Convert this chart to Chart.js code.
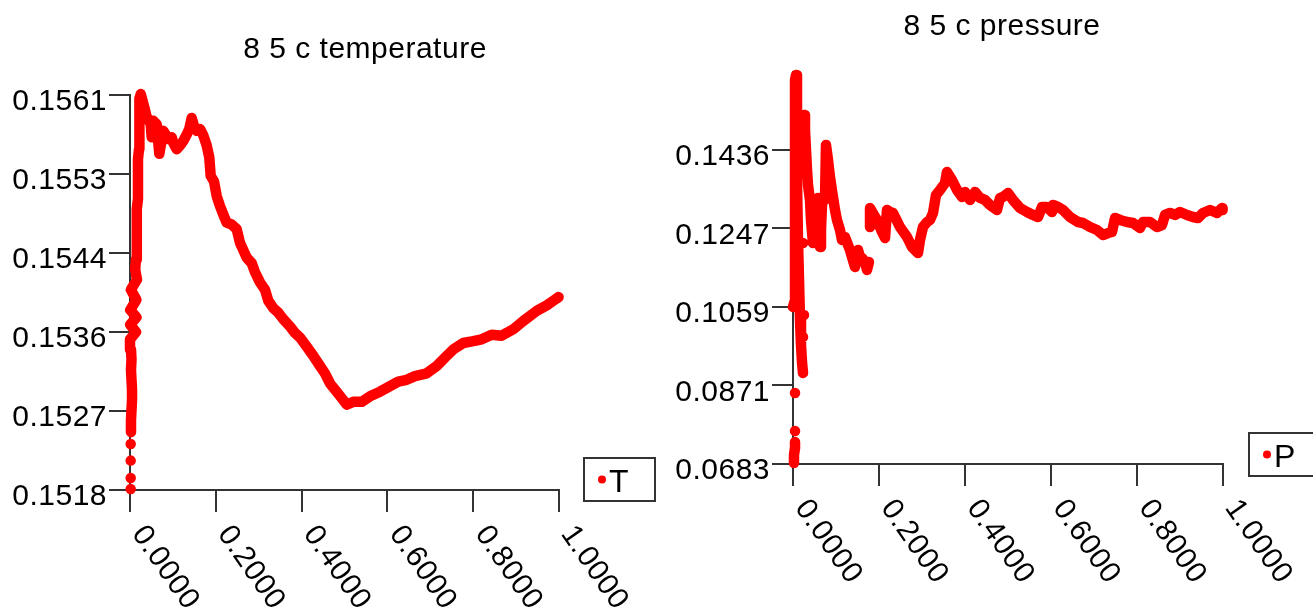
<!DOCTYPE html>
<html>
<head>
<meta charset="utf-8">
<script src="https://cdn.jsdelivr.net/npm/chart.js@4/dist/chart.umd.min.js"></script>
<style>
  body { margin: 0; background: #fff; }
  #tempChart { position: absolute; left: 0; top: 0; }
  #presChart { position: absolute; left: 656px; top: 0; }
</style>
</head>
<body>
<canvas id="tempChart" width="656" height="609"></canvas>
<canvas id="presChart" width="657" height="609"></canvas>
<script>
/* Data */
let xTicks = [0, 0.2, 0.4, 0.6, 0.8, 1.0];

let tempTicks = [0.1518, 0.1527, 0.1536, 0.1544, 0.1553, 0.1561];
let presTicks = [0.0683, 0.0871, 0.1059, 0.1247, 0.1436];

let tempX = [
  0.0016, 0.0016, 0.0016, 0.0016, 0.0016, 0.0016, 0.0016, 0.0016,
  0.0023, 0.0023, 0.0035, 0.0047, 0.0047, 0.0035, 0.0023, 0.0035, 0.0023,
  0.0000, 0.0140, 0.0005, 0.0150, 0.0005, 0.0150, 0.0020, 0.0163, 0.0120,
  0.0140, 0.0140, 0.0163, 0.0163, 0.0163, 0.0163, 0.0186, 0.0186, 0.0186,
  0.0186, 0.0186, 0.0210, 0.0210, 0.0210, 0.0210, 0.0233, 0.0233, 0.0250,
  0.0326, 0.0389, 0.0427, 0.0483, 0.0506, 0.0543, 0.0622, 0.0683, 0.0776,
  0.0832, 0.0893, 0.0972, 0.1009, 0.1089, 0.1166, 0.1242, 0.1322, 0.1382,
  0.1438, 0.1492, 0.1555, 0.1632, 0.1709, 0.1788, 0.1848, 0.1881, 0.1958,
  0.2021, 0.2098, 0.2191, 0.2254, 0.2371, 0.2487, 0.2564, 0.2720, 0.2837,
  0.2914, 0.3030, 0.3147, 0.3224, 0.3340, 0.3457, 0.3573, 0.3730, 0.3846,
  0.3963, 0.4119, 0.4273, 0.4429, 0.4545, 0.4662, 0.4818, 0.4935, 0.5051,
  0.5205, 0.5401, 0.5594, 0.5828, 0.6061, 0.6254, 0.6450, 0.6643, 0.6916,
  0.7149, 0.7382, 0.7536, 0.7769, 0.8002, 0.8198, 0.8431, 0.8664, 0.8935,
  0.9168, 0.9480, 0.9713, 0.9867, 0.9990
];
let tempY = [
  0.15181, null, 0.15193, null, 0.15212, null, 0.15230, null,
  0.15243, 0.15256, 0.15267, 0.15278, 0.15289, 0.15300, 0.15311, 0.15322, 0.15333,
  0.15344, 0.15352, 0.15360, 0.15368, 0.15376, 0.15387, 0.15398, 0.15409, 0.15420,
  0.15431, 0.15442, 0.15453, 0.15464, 0.15475, 0.15486, 0.15497, 0.15507, 0.15518,
  0.15529, 0.15540, 0.15551, 0.15562, 0.15573, 0.15584, 0.15595, 0.15606, 0.15611,
  0.15598, 0.15586, 0.15584, 0.15578, 0.15564, 0.15582, 0.15578, 0.15546, 0.15571,
  0.15567, 0.15562, 0.15564, 0.15558, 0.15551, 0.15555, 0.15560, 0.15567, 0.15573,
  0.15585, 0.15576, 0.15571, 0.15573, 0.15566, 0.15555, 0.15542, 0.15522, 0.15516,
  0.15500, 0.15489, 0.15478, 0.15471, 0.15469, 0.15464, 0.15449, 0.15433, 0.15427,
  0.15417, 0.15406, 0.15398, 0.15386, 0.15378, 0.15373, 0.15366, 0.15358, 0.15351,
  0.15346, 0.15336, 0.15326, 0.15315, 0.15307, 0.15296, 0.15287, 0.15280, 0.15273,
  0.15276, 0.15276, 0.15282, 0.15287, 0.15293, 0.15298, 0.15300, 0.15304, 0.15307,
  0.15315, 0.15326, 0.15333, 0.15340, 0.15342, 0.15344, 0.15349, 0.15348, 0.15355,
  0.15364, 0.15375, 0.15381, 0.15386, 0.15390
];

let presX = [
  0.0023, 0.0023, 0.0047, 0.0047, 0.0047, 0.0047, 0.0047, 0.0047, 0.0047,
  0.0000, 0.0047, 0.0047, 0.0047, 0.0047, 0.0047, 0.0047, 0.0070,
  0.0093, 0.0093, 0.0116, 0.0140, 0.0163, 0.0186, 0.0209, 0.0233,
  0.0233, 0.0233, 0.0233, 0.0256, 0.0256, 0.0233, 0.0233,
  0.0256, 0.0279, 0.0302, 0.0326, 0.0349, 0.0395, 0.0419, 0.0442, 0.0465,
  0.0488, 0.0512, 0.0535, 0.0558, 0.0581, 0.0605, 0.0628, 0.0651, 0.0674,
  0.0698, 0.0744,
  0.0767, 0.0814, 0.0860, 0.0930, 0.0977, 0.1023, 0.1093, 0.1140, 0.1209,
  0.1279, 0.1326, 0.1372, 0.1442, 0.1512, 0.1558, 0.1605, 0.1674, 0.1721,
  0.1767, 0.1767,
  0.1791, 0.1791, 0.1884, 0.1953, 0.2070, 0.2140, 0.2186, 0.2256, 0.2326,
  0.2488, 0.2651, 0.2767, 0.2907, 0.2953, 0.3023, 0.3116, 0.3186, 0.3256,
  0.3326, 0.3419, 0.3535, 0.3581, 0.3698, 0.3814, 0.3930, 0.4000, 0.4116,
  0.4233, 0.4349, 0.4465, 0.4581, 0.4744, 0.4814, 0.4884, 0.5000, 0.5116,
  0.5279, 0.5442, 0.5581, 0.5698, 0.5791, 0.5907, 0.6023, 0.6047, 0.6163,
  0.6279, 0.6442, 0.6628, 0.6744, 0.6907, 0.7070, 0.7209, 0.7326, 0.7419,
  0.7488, 0.7605, 0.7767, 0.7907, 0.8070, 0.8140, 0.8302, 0.8465, 0.8581,
  0.8651, 0.8767, 0.8884, 0.9000, 0.9163, 0.9302, 0.9419, 0.9535, 0.9698,
  0.9860, 0.9977, 0.9990
];
let presY = [
  0.06854, 0.07046, 0.07214, 0.07358, null, 0.07621, null, 0.08533, null,
  0.10595, 0.10763, 0.11962, 0.13161, 0.14360, 0.15319, 0.16038, 0.16158,
  0.15079, 0.13640, 0.12202, 0.11242, 0.10283, 0.09684, 0.09276, 0.09012,
  null, 0.09875, null, 0.10403, null, 0.12130, null,
  0.15199, 0.14839, 0.14360, 0.13880, 0.13520, 0.13161, 0.12681, 0.12393, 0.12130,
  0.12801, 0.13161, 0.12921, 0.12561, 0.13209, 0.12441, 0.12034, 0.12441, 0.13041,
  0.13233, 0.13161,
  0.14480, 0.14120, 0.13712, 0.13233, 0.12921, 0.12681, 0.12441, 0.12202, 0.12273,
  0.12082, 0.11962, 0.11794, 0.11554, 0.11962, 0.11794, 0.11770, 0.11674, 0.11482,
  0.11674, null,
  0.12513, 0.12969, 0.12801, 0.12681, 0.12393, 0.12249, 0.12921, 0.12873, 0.12849,
  0.12513, 0.12273, 0.12034, 0.11890, 0.12202, 0.12513, 0.12633, 0.12681, 0.12849,
  0.13281, 0.13401, 0.13568, 0.13832, 0.13640, 0.13401, 0.13233, 0.13353, 0.13161,
  0.13353, 0.13209, 0.13161, 0.13041, 0.12921, 0.13209, 0.13233, 0.13329, 0.13161,
  0.12969, 0.12873, 0.12801, 0.12753, 0.12993, 0.12993, 0.12873, 0.13041, 0.12993,
  0.12921, 0.12753, 0.12633, 0.12609, 0.12513, 0.12441, 0.12321, 0.12369, 0.12393,
  0.12729, 0.12681, 0.12633, 0.12609, 0.12489, 0.12633, 0.12633, 0.12513, 0.12561,
  0.12801, 0.12849, 0.12801, 0.12873, 0.12801, 0.12753, 0.12729, 0.12849, 0.12921,
  0.12849, 0.12969, 0.12921
];

/* Helpers */
const FONT = '"Liberation Sans", Arial, sans-serif';
const AXIS = '#333';
const SPACING = '0.5px';

function points(xs, ys) {
    return xs.map((x, i) => ({ x: x, y: ys[i] }));
}

/* Titles, rotated x labels, legend box */
const decor = {
    id: 'decor',
    beforeDraw(chart) {
        chart.ctx.letterSpacing = SPACING;
    },
    afterDraw(chart, args, o) {
        const ctx = chart.ctx;
        const area = chart.chartArea;
        const xs = chart.scales.x;
        ctx.save();
        ctx.letterSpacing = SPACING;
        ctx.fillStyle = '#000';

        ctx.font = '30px ' + FONT;
        ctx.textAlign = 'center';
        ctx.textBaseline = 'alphabetic';
        ctx.fillText(o.title, o.titleX, o.titleY);

        ctx.textAlign = 'left';
        ctx.textBaseline = 'middle';
        xTicks.forEach(v => {
            ctx.save();
            ctx.translate(xs.getPixelForValue(v) + 8, area.bottom + 39);
            ctx.rotate(55 * Math.PI / 180);
            ctx.fillText(v.toFixed(4), 0, 0);
            ctx.restore();
        });

        const lg = o.legend;
        ctx.strokeStyle = AXIS;
        ctx.lineWidth = 2;
        ctx.strokeRect(lg.x, lg.y, lg.w, lg.h);
        ctx.fillStyle = 'red';
        ctx.beginPath();
        ctx.arc(lg.x + 18, lg.y + lg.h / 2, 4, 0, Math.PI * 2);
        ctx.fill();
        ctx.fillStyle = '#000';
        ctx.font = '32px ' + FONT;
        ctx.textAlign = 'left';
        ctx.textBaseline = 'alphabetic';
        ctx.fillText(chart.data.datasets[0].label, lg.x + 25, lg.y + lg.h / 2 + 12);
        ctx.restore();
    }
};

function makeChart(id, xs, ys, label, ticks, yMin, yMax, cfg) {
    const first = ticks[0];
    const step = (ticks[ticks.length - 1] - first) / (ticks.length - 1);
    return new Chart(id, {
        type: 'scatter',
        data: {
            datasets: [{
                label: label,
                data: points(xs, ys),
                showLine: true,
                spanGaps: false,
                borderColor: 'red',
                backgroundColor: 'red',
                borderWidth: 10.5,
                borderJoinStyle: 'round',
                borderCapStyle: 'round',
                pointRadius: 3.8,
                pointBorderWidth: 0,
                pointHoverRadius: 3.8,
                clip: false
            }]
        },
        options: {
            responsive: false,
            animation: false,
            events: [],
            layout: { padding: cfg.padding },
            plugins: {
                legend: { display: false },
                tooltip: { enabled: false },
                decor: cfg.decor
            },
            scales: {
                x: {
                    type: 'linear',
                    min: 0,
                    max: 1,
                    afterBuildTicks: s => { s.ticks = xTicks.map(v => ({ value: v })); },
                    afterFit: s => { s.height = cfg.xHeight; },
                    ticks: { display: false },
                    grid: { drawOnChartArea: false, tickLength: 22, color: AXIS, lineWidth: 2 },
                    border: { color: AXIS, width: 2 }
                },
                y: {
                    type: 'linear',
                    min: yMin,
                    max: yMax,
                    afterBuildTicks: s => { s.ticks = ticks.map((v, i) => ({ value: first + i * step })); },
                    afterFit: s => { s.width = cfg.yWidth; },
                    ticks: {
                        callback: (v, i) => ticks[i].toFixed(4),
                        color: '#000',
                        font: { family: FONT, size: 30 },
                        padding: 2,
                        labelOffset: 7
                    },
                    grid: { drawOnChartArea: false, tickLength: 21, color: AXIS, lineWidth: 2 },
                    border: { color: AXIS, width: 2 }
                }
            }
        },
        plugins: [decor]
    });
}

/* Temperature Chart */
makeChart('tempChart', tempX, tempY, 'T', tempTicks, 0.1518, 0.1561, {
    padding: { left: 0, top: 95, right: 97, bottom: 0 },
    xHeight: 119,
    yWidth: 130,
    decor: {
        title: '8 5 c temperature', titleX: 365, titleY: 58,
        legend: { x: 584, y: 458, w: 71, h: 43 }
    }
});

/* Pressure Chart */
makeChart('presChart', presX, presY, 'P', presTicks, 0.0683, 0.1623, {
    padding: { left: 0, top: 72, right: 90, bottom: 0 },
    xHeight: 145,
    yWidth: 137,
    decor: {
        title: '8 5 c pressure', titleX: 346, titleY: 35,
        legend: { x: 593, y: 433, w: 80, h: 43 }
    }
});
</script>
</body>
</html>
